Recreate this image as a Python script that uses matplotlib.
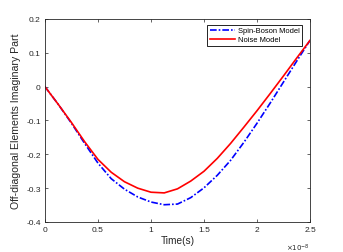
import matplotlib
matplotlib.use('Agg')
import matplotlib.pyplot as plt
from matplotlib.ticker import FuncFormatter

# time in units of 1e-8 s
time_e8 = [0, 0.125, 0.25, 0.375, 0.5, 0.625, 0.75, 0.875, 1.0, 1.125, 1.25,
           1.375, 1.5, 1.625, 1.75, 1.875, 2.0, 2.125, 2.25, 2.375, 2.5]
spin_boson = [0, -0.052, -0.108, -0.168, -0.226, -0.272, -0.303, -0.326, -0.341,
              -0.349, -0.347, -0.328, -0.299, -0.262, -0.218, -0.165, -0.108,
              -0.048, 0.014, 0.076, 0.137]
noise_model = [0, -0.052, -0.106, -0.163, -0.215, -0.253, -0.281, -0.300, -0.312,
               -0.314, -0.302, -0.279, -0.250, -0.212, -0.168, -0.120, -0.071,
               -0.020, 0.032, 0.085, 0.137]
x_ticks = [0, 0.5, 1, 1.5, 2, 2.5]
y_ticks = [-0.4, -0.3, -0.2, -0.1, 0, 0.1, 0.2]

plt.rcParams['font.family'] = ['Liberation Sans', 'DejaVu Sans']
plt.rcParams['axes.unicode_minus'] = False

gray = '#262626'
fig = plt.figure(figsize=(3.43, 2.53), dpi=100)
ax = fig.add_axes([0.131, 0.1186, 0.773, 0.8024])

ax.plot(time_e8, spin_boson, color='blue', lw=1.2, dashes=(4, 1.2, 1, 1.2),
        label='Spin-Boson Model')
ax.plot(time_e8, noise_model, '-', color='red', lw=1.2, label='Noise Model')

ax.set_xlim(0, 2.5)
ax.set_ylim(-0.4, 0.2)
ax.set_xticks(x_ticks)
ax.set_yticks(y_ticks)
fmt = FuncFormatter(lambda v, p: '%g' % round(v, 6))
ax.xaxis.set_major_formatter(fmt)
ax.yaxis.set_major_formatter(fmt)
ax.tick_params(direction='in', length=2.5, width=0.5, top=True, right=True,
               labelsize=6, colors=gray, pad=3)
for s in ax.spines.values():
    s.set_linewidth(0.6)
    s.set_color(gray)

ax.set_xlabel('Time(s)', fontsize=7.3, color=gray, labelpad=1)
ax.set_ylabel('Off-diagonal Elements Imaginary Part', fontsize=7.6, color=gray, labelpad=4)
ax.text(1.0, -0.123, r'$\times 10^{-8}$', transform=ax.transAxes, ha='right',
        va='center', fontsize=5, color=gray)

leg = ax.legend(loc='upper right', fontsize=5.4, frameon=True, fancybox=False,
                edgecolor='black', framealpha=1, handlelength=3.4,
                borderpad=0.3, labelspacing=0.25, handletextpad=0.4,
                bbox_to_anchor=(0.985, 0.99))
leg.get_frame().set_linewidth(0.6)

fig.savefig('out.png', dpi=100)
